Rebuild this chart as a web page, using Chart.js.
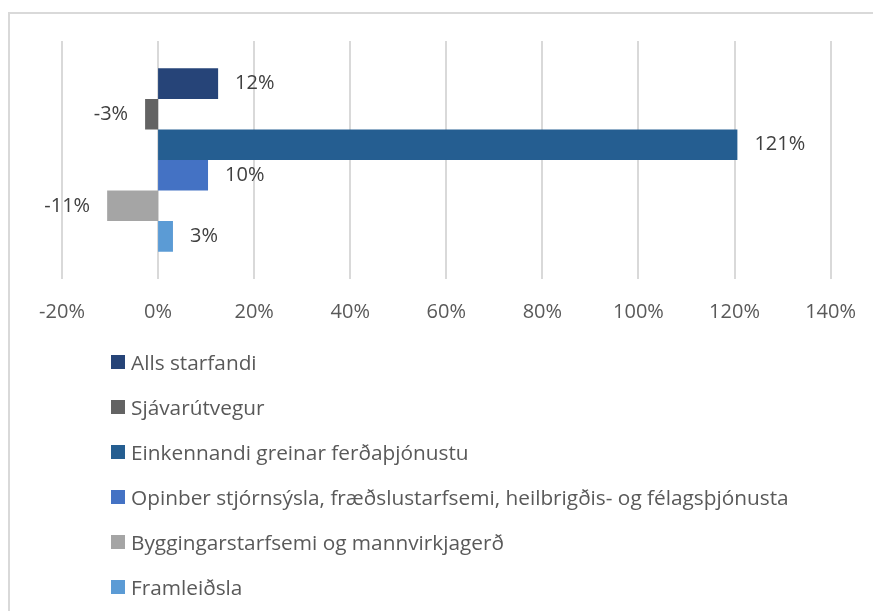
<!DOCTYPE html>
<html>
<head>
<meta charset="utf-8">
<script src="https://cdn.jsdelivr.net/npm/chart.js@4"></script>
<style>
  body { margin: 0; width: 873px; height: 611px; overflow: hidden; background: #fff; font-family: "Open Sans", sans-serif; }
  #frame { position: absolute; left: 8px; top: 12px; width: 900px; height: 700px; border: 2px solid #d9d9d9; box-sizing: border-box; }
  #wrap { position: absolute; left: 0; top: 0; width: 877px; height: 352px; }
  #legend { position: absolute; left: 111px; top: 339px; margin: 0; padding: 0; list-style: none; }
  #legend li { height: 45px; display: flex; align-items: center; font-size: 20.8px; color: #595959; white-space: nowrap; }
  #legend span.box { width: 14px; height: 14px; margin-right: 6px; display: inline-block; }
</style>
</head>
<body>
<div id="frame"></div>
<div id="wrap"><canvas id="chart"></canvas></div>
<ul id="legend"></ul>
<script>
window.addEventListener("DOMContentLoaded", () => {
  const seriesNames = [
    "Alls starfandi",
    "Sjávarútvegur",
    "Einkennandi greinar ferðaþjónustu",
    "Opinber stjórnsýsla, fræðslustarfsemi, heilbrigðis- og félagsþjónusta",
    "Byggingarstarfsemi og mannvirkjagerð",
    "Framleiðsla"
  ];
  const seriesValues = [0.125, -0.027, 1.206, 0.104, -0.106, 0.031];
  const seriesLabels = ["12%", "-3%", "121%", "10%", "-11%", "3%"];
  const seriesColors = ["#264478", "#636363", "#255e91", "#4472c4", "#a5a5a5", "#5b9bd5"];

  // value labels at the end of each bar
  const barLabels = {
    id: "barLabels",
    afterDatasetsDraw(chart) {
      const ctx = chart.ctx;
      ctx.save();
      ctx.font = "20px 'Open Sans', sans-serif";
      ctx.fillStyle = "#404040";
      ctx.textBaseline = "middle";
      chart.data.datasets.forEach((ds, i) => {
        const bar = chart.getDatasetMeta(i).data[0];
        const v = ds.data[0];
        if (v >= 0) {
          ctx.textAlign = "left";
          ctx.fillText(seriesLabels[i], bar.x + 17, bar.y);
        } else {
          ctx.textAlign = "right";
          ctx.fillText(seriesLabels[i], bar.x - 17, bar.y);
        }
      });
      ctx.restore();
    }
  };

  const chart = new Chart(document.getElementById("chart"), {
    type: "bar",
    data: {
      labels: [""],
      datasets: seriesNames.map((name, i) => ({
        label: name,
        data: [seriesValues[i]],
        backgroundColor: seriesColors[i],
        borderWidth: 0,
        categoryPercentage: 0.77,
        barPercentage: 1
      }))
    },
    options: {
      indexAxis: "y",
      responsive: true,
      maintainAspectRatio: false,
      animation: false,
      layout: { padding: { left: 62, right: 36, top: 41, bottom: 7 } },
      scales: {
        x: {
          min: -0.2,
          max: 1.4,
          ticks: {
            stepSize: 0.2,
            padding: 21,
            color: "#595959",
            font: { family: "'Open Sans', sans-serif", size: 20 },
            callback: v => Math.round(v * 100) + "%"
          },
          grid: { color: "#d9d9d9", lineWidth: 2, drawTicks: false },
          border: { display: false }
        },
        y: { display: false }
      },
      plugins: {
        legend: { display: false },
        tooltip: { enabled: false }
      }
    },
    plugins: [barLabels]
  });

  // html legend, one entry per row
  const legend = document.getElementById("legend");
  chart.data.datasets.forEach(ds => {
    const li = document.createElement("li");
    const box = document.createElement("span");
    box.className = "box";
    box.style.background = ds.backgroundColor;
    li.appendChild(box);
    li.appendChild(document.createTextNode(ds.label));
    legend.appendChild(li);
  });
});
</script>
</body>
</html>
